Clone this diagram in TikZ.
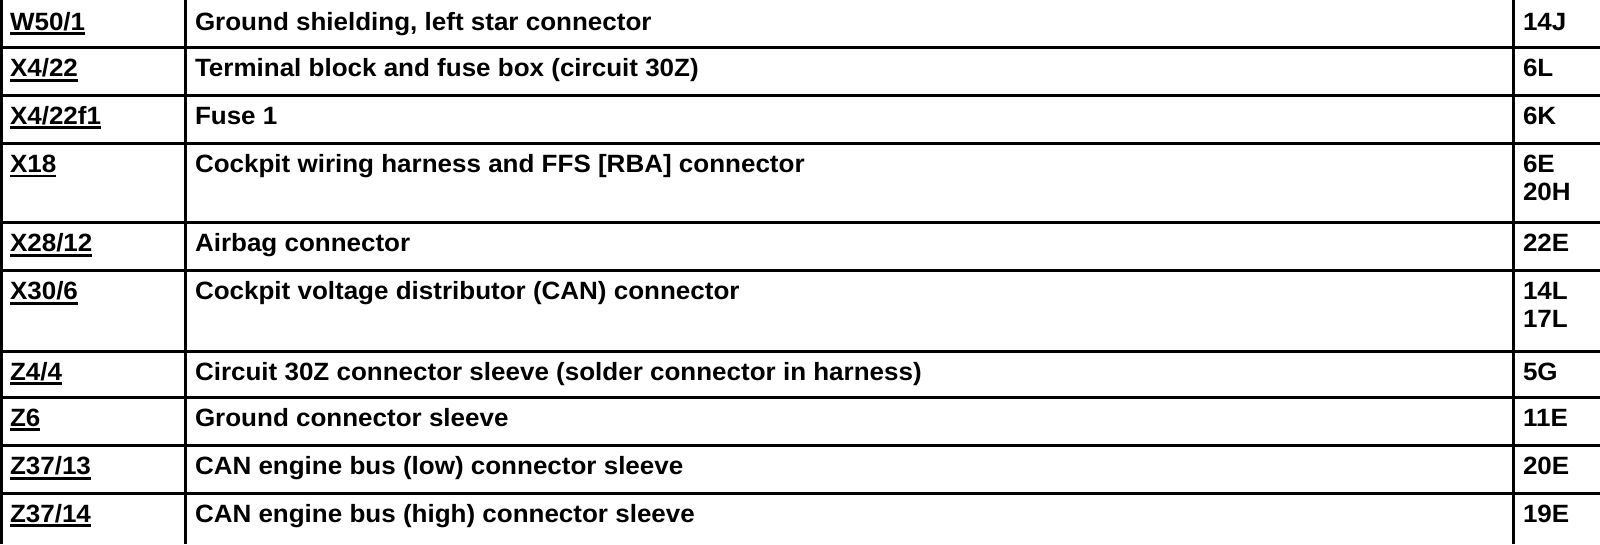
\documentclass[tikz,border=0pt]{standalone}
\usepackage{fontspec}
\setmainfont[FakeStretch=1.04]{Liberation Sans}
\newcommand\ulref[1]{\setbox0\hbox{#1}\rlap{\rule[-5pt]{\wd0}{2.8pt}}\box0}
\begin{document}
\begin{tikzpicture}[x=1pt,y=-1pt,
  rule/.style={line width=3pt,black},
  cell/.style={anchor=base west,inner sep=0pt,outer sep=0pt,text=black,
     font=\fontsize{25}{28.3}\selectfont\bfseries},
  refcell/.style={cell}]
\useasboundingbox (0,0) rectangle (1600,544);
% grid
\coordinate (v1t) at (1.5,0);   \coordinate (v1b) at (1.5,544);
\coordinate (v2t) at (185,0);   \coordinate (v2b) at (185,544);
\coordinate (v3t) at (1513.3,0);\coordinate (v3b) at (1513.3,544);
\draw[rule] (v1t) -- (v1b);
\draw[rule] (v2t) -- (v2b);
\draw[rule] (v3t) -- (v3b);
\foreach \yy [count=\i] in {47.7,95,143.3,222.5,270.5,351,397,445.5,493}{
  \coordinate (hl\i) at (0,\yy);
  \coordinate (hr\i) at (1600,\yy);
  \draw[rule] (hl\i) -- (hr\i);
}
% row 1
\node[refcell] (a1) at (10,30) {\ulref{W50/1}};
\node[cell] (b1) at (195,30) {Ground shielding, left star connector};
\node[cell] (c1) at (1523,30) {14J};
% row 2
\node[refcell] (a2) at (10,76.7) {\ulref{X4/22}};
\node[cell] (b2) at (195,76.7) {Terminal block and fuse box (circuit 30Z)};
\node[cell] (c2) at (1523,76.7) {6L};
% row 3
\node[refcell] (a3) at (10,124) {\ulref{X4/22f1}};
\node[cell] (b3) at (195,124) {Fuse 1};
\node[cell] (c3) at (1523,124) {6K};
% row 4
\node[refcell] (a4) at (10,172.3) {\ulref{X18}};
\node[cell] (b4) at (195,172.3) {Cockpit wiring harness and FFS [RBA] connector};
\node[cell] (c4) at (1523,172.3) {6E};
\node[cell] (c4b) at (1523,200.6) {20H};
% row 5
\node[refcell] (a5) at (10,251.5) {\ulref{X28/12}};
\node[cell] (b5) at (195,251.5) {Airbag connector};
\node[cell] (c5) at (1523,251.5) {22E};
% row 6
\node[refcell] (a6) at (10,299.5) {\ulref{X30/6}};
\node[cell] (b6) at (195,299.5) {Cockpit voltage distributor (CAN) connector};
\node[cell] (c6) at (1523,299.5) {14L};
\node[cell] (c6b) at (1523,327.8) {17L};
% row 7
\node[refcell] (a7) at (10,380) {\ulref{Z4/4}};
\node[cell] (b7) at (195,380) {Circuit 30Z connector sleeve (solder connector in harness)};
\node[cell] (c7) at (1523,380) {5G};
% row 8
\node[refcell] (a8) at (10,426) {\ulref{Z6}};
\node[cell] (b8) at (195,426) {Ground connector sleeve};
\node[cell] (c8) at (1523,426) {11E};
% row 9
\node[refcell] (a9) at (10,474.5) {\ulref{Z37/13}};
\node[cell] (b9) at (195,474.5) {CAN engine bus (low) connector sleeve};
\node[cell] (c9) at (1523,474.5) {20E};
% row 10
\node[refcell] (a10) at (10,522) {\ulref{Z37/14}};
\node[cell] (b10) at (195,522) {CAN engine bus (high) connector sleeve};
\node[cell] (c10) at (1523,522) {19E};
\end{tikzpicture}
\end{document}
